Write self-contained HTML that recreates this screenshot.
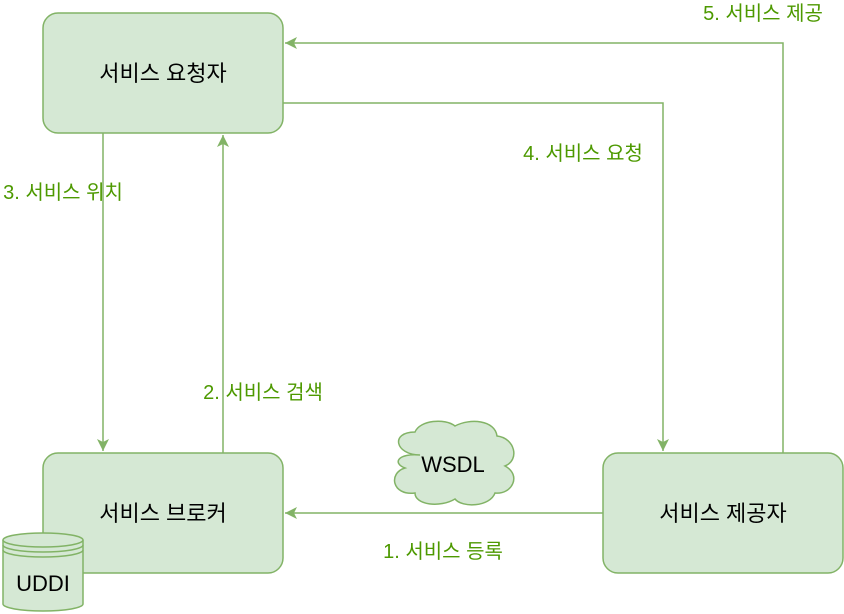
<!DOCTYPE html>
<html><head><meta charset="utf-8"><style>
html,body{margin:0;padding:0;background:#fff;}
svg{display:block;}
text{font-family:"Liberation Sans","Noto Sans CJK KR",sans-serif;}
.b{font-size:22px;fill:#000;}
.l{font-size:20px;fill:#4d9900;}
</style></head><body>
<svg width="844" height="614" viewBox="0 0 844 614">
<defs><marker id="a" markerWidth="14" markerHeight="14" refX="12" refY="6" orient="auto" markerUnits="userSpaceOnUse"><path d="M0,0 L12,6 L0,12 L3,6 Z" fill="#82b366"/></marker></defs>
<g fill="#d5e8d4" stroke="#82b366" stroke-width="1.5">
<rect x="43" y="13" width="240" height="120" rx="15"/>
<rect x="43" y="453" width="240" height="120" rx="15"/>
<rect x="603" y="453" width="240" height="120" rx="15"/>
</g>
<g fill="none" stroke="#82b366" stroke-width="1.5">
<path d="M103,133 V451" marker-end="url(#a)"/>
<path d="M223,453 V135" marker-end="url(#a)"/>
<path d="M283,103 H663 V451" marker-end="url(#a)"/>
<path d="M783,453 V43 H285" marker-end="url(#a)"/>
<path d="M603,513 H285" marker-end="url(#a)"/>
</g>
<path d="M420,455 C395,455 390,432 415,432 C420,420 445,418 455,426 C470,418 495,420 497,436 C515,438 520,460 505,466 C522,475 512,495 495,493 C490,507 462,508 455,499 C440,508 415,505 415,493 C392,496 388,473 405,468 C392,463 398,453 420,455 Z" fill="#d5e8d4" stroke="#82b366" stroke-width="1.5"/>
<g fill="#d5e8d4" stroke="#82b366" stroke-width="1.5">
<path d="M3,540 V604 A40,7 0 0 0 83,604 V540"/>
<ellipse cx="43" cy="540" rx="40" ry="7"/>
<path d="M3,545 A40,7 0 0 0 83,545 M3,550 A40,7 0 0 0 83,550" fill="none"/>
</g>
<text class="b" x="163" y="81" text-anchor="middle">서비스 요청자</text>
<text class="b" x="163" y="521" text-anchor="middle">서비스 브로커</text>
<text class="b" x="723" y="521" text-anchor="middle">서비스 제공자</text>
<text class="b" x="453" y="472" text-anchor="middle">WSDL</text>
<text class="b" x="43" y="591" text-anchor="middle">UDDI</text>
<text class="l" x="63" y="199" text-anchor="middle">3. 서비스 위치</text>
<text class="l" x="263" y="399" text-anchor="middle">2. 서비스 검색</text>
<text class="l" x="583" y="160" text-anchor="middle">4. 서비스 요청</text>
<text class="l" x="763" y="20" text-anchor="middle">5. 서비스 제공</text>
<text class="l" x="443" y="558" text-anchor="middle">1. 서비스 등록</text>
</svg>
</body></html>
